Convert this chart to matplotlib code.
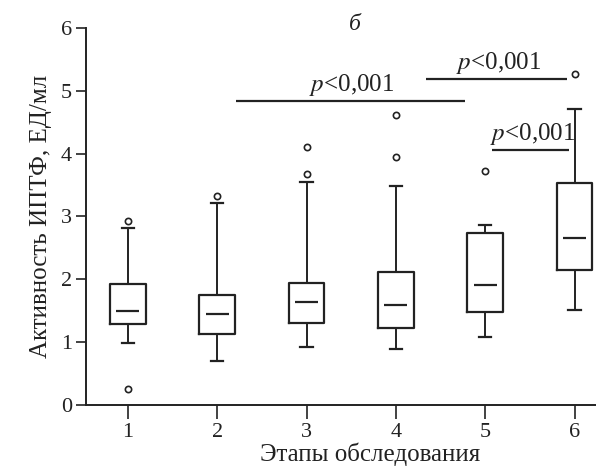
import matplotlib.pyplot as plt

plt.rcParams['font.family'] = ['Liberation Serif', 'DejaVu Serif']
plt.rcParams['mathtext.fontset'] = 'stix'

stages = [1, 2, 3, 4, 5, 6]
q1 = [1.29, 1.13, 1.31, 1.23, 1.48, 2.15]
med = [1.50, 1.45, 1.64, 1.59, 1.91, 2.66]
q3 = [1.93, 1.75, 1.94, 2.12, 2.74, 3.53]
whislo = [0.99, 0.70, 0.92, 0.89, 1.08, 1.51]
whishi = [2.82, 3.22, 3.54, 3.49, 2.87, 4.71]
fliers = [[2.93, 0.25], [3.33], [3.68, 4.11], [3.95, 4.62], [3.72], [5.27]]

# significance bars: (x start, x end, y level)
sig_bars = [(2.21, 4.77, 4.84), (4.34, 5.92, 5.18), (5.08, 5.94, 4.06)]
sig_text = r'$p$<0,001'

col = '#222222'

fig = plt.figure(figsize=(5.96, 4.72), dpi=100)
ax = fig.add_axes([0.144, 0.142, 0.856, 0.799])

stats = []
for i in range(len(stages)):
    stats.append(dict(med=med[i], q1=q1[i], q3=q3[i], whislo=whislo[i],
                      whishi=whishi[i], fliers=fliers[i]))

ax.bxp(stats, positions=stages, widths=0.4, showfliers=True,
       boxprops=dict(color=col, linewidth=1.6),
       whiskerprops=dict(color=col, linewidth=1.4),
       capprops=dict(color=col, linewidth=1.6),
       capwidths=0.14,
       medianprops=dict(linewidth=0),
       flierprops=dict(marker='o', markersize=4.5, markerfacecolor='white',
                       markeredgecolor=col, markeredgewidth=1.2))

# median marks are shorter than the box
ax.hlines(med, [s - 0.13 for s in stages], [s + 0.13 for s in stages],
          colors=col, linewidth=1.6)

for x0, x1, y in sig_bars:
    ax.plot([x0, x1], [y, y], color=col, linewidth=1.6, solid_capstyle='butt')
    ax.text((x0 + x1) / 2 + 0.02, y + 0.05, sig_text,
            ha='center', va='bottom', fontsize=18, color=col)

ax.set_xlim(0.53, 6.24)
ax.set_ylim(0, 6)
ax.set_xticks(stages)
ax.set_yticks([0, 1, 2, 3, 4, 5, 6])
ax.tick_params(labelsize=16, colors=col, width=1.2)
ax.tick_params(axis='x', length=10, pad=3)
ax.tick_params(axis='y', length=7, pad=3)
ax.spines['top'].set_visible(False)
ax.spines['right'].set_visible(False)
ax.spines['left'].set_linewidth(1.4)
ax.spines['bottom'].set_linewidth(1.4)
ax.spines['left'].set_color(col)
ax.spines['bottom'].set_color(col)

ax.set_ylabel('Активность ИПТФ, ЕД/мл', fontsize=18, color=col, labelpad=6)
ax.set_xlabel('Этапы обследования', fontsize=18, color=col)
ax.xaxis.set_label_coords(0.557, -0.10)
ax.text(3.54, 6.05, 'б', fontsize=17, style='italic', color=col,
        ha='center', va='center', clip_on=False)

fig.savefig('out.png', dpi=100)
